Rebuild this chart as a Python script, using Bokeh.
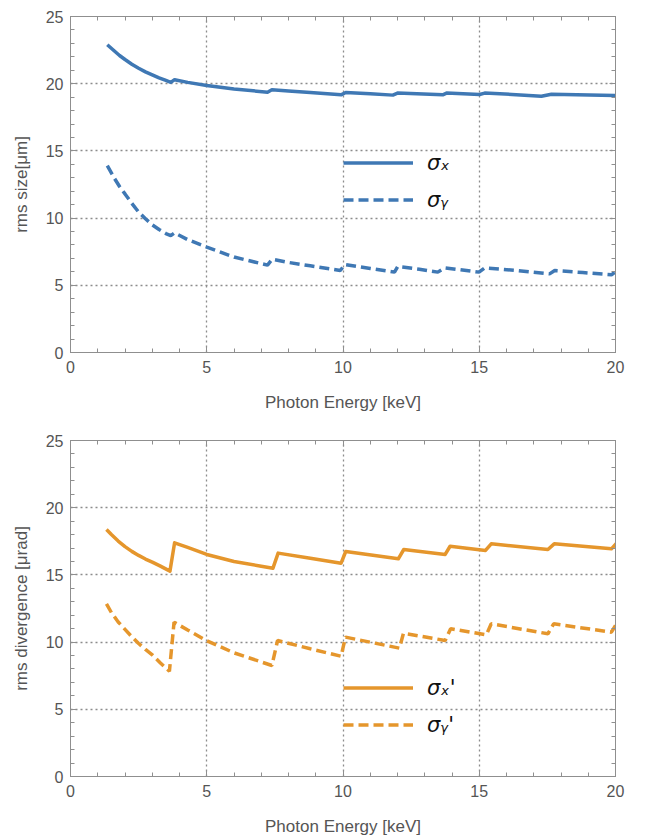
from bokeh.plotting import figure
from bokeh.models import (Range1d, LinearAxis, SingleIntervalTicker, Legend, LegendItem,
                          CustomJSTickFormatter)
from bokeh.layouts import column
from bokeh.embed import file_html
from bokeh.resources import INLINE

# ---- data ----
sx_e = [1.35, 1.6, 1.8, 2.0, 2.25, 2.5, 2.75, 3.0, 3.25, 3.5, 3.68, 3.82, 4.3, 5.0, 6.0, 7.23, 7.39, 8.0,
        8.8, 9.93, 10.1, 11.0, 11.83, 12.0, 13.66, 13.8, 15.01, 15.2, 16.2, 17.28, 17.65, 19.97, 20.0]
sx_v = [22.9, 22.45, 22.1, 21.8, 21.45, 21.15, 20.88, 20.65, 20.43, 20.24, 20.1, 20.3, 20.1, 19.87,
        19.6, 19.37, 19.55, 19.45, 19.35, 19.17, 19.35, 19.25, 19.15, 19.3, 19.17, 19.3, 19.2, 19.3,
        19.2, 19.07, 19.22, 19.12, 19.12]

sy_e = [1.35, 1.6, 1.8, 2.0, 2.25, 2.5, 2.75, 3.0, 3.25, 3.5, 3.68, 3.82, 4.3, 5.0, 6.0, 7.23, 7.4,
        8.0, 8.8, 9.9, 10.07, 11.0, 11.89, 12.01, 12.8, 13.48, 13.73, 14.99, 15.2, 16.4, 17.58,
        17.77, 18.8, 19.85, 19.97]
sy_v = [13.9, 13.0, 12.35, 11.8, 11.1, 10.45, 9.95, 9.5, 9.15, 8.85, 8.7, 8.9, 8.4, 7.84, 7.1, 6.5,
        6.94, 6.7, 6.45, 6.1, 6.55, 6.25, 5.98, 6.4, 6.2, 5.98, 6.3, 5.98, 6.3, 6.1, 5.85, 6.1, 5.95,
        5.78, 5.97]

dx_e = [1.32, 1.5, 1.75, 2.0, 2.25, 2.5, 2.75, 3.0, 3.3, 3.65, 3.82, 4.3, 5.0, 6.0, 7.0, 7.43, 7.62,
        8.8, 9.93, 10.1, 12.03, 12.23, 13.75, 13.93, 15.23, 15.44, 17.52, 17.75, 19.85, 20.04]
dx_v = [18.38, 18.0, 17.52, 17.1, 16.75, 16.45, 16.18, 15.95, 15.65, 15.28, 17.39, 17.05, 16.52,
        16.0, 15.65, 15.5, 16.62, 16.24, 15.87, 16.74, 16.2, 16.89, 16.52, 17.13, 16.82, 17.31,
        16.89, 17.31, 16.94, 17.36]

dy_e = [1.32, 1.5, 1.75, 2.0, 2.25, 2.5, 2.75, 3.0, 3.3, 3.63, 3.80, 4.3, 5.0, 6.0, 7.39, 7.6, 8.8,
        9.93, 10.09, 12.07, 12.22, 13.75, 13.95, 15.26, 15.44, 17.52, 17.73, 19.85, 20.0]
dy_v = [12.85, 12.2, 11.5, 10.95, 10.4, 9.9, 9.45, 9.05, 8.45, 7.83, 11.48, 10.9, 10.1, 9.2, 8.26,
        10.12, 9.5, 8.95, 10.37, 9.55, 10.66, 10.12, 10.99, 10.54, 11.36, 10.62, 11.36, 10.74, 11.24]

x_title = "Photon Energy [keV]"
top_title = "rms size[μm]"
bot_title = "rms divergence [μrad]"
top_labels = ["σₓ", "σᵧ"]
bot_labels = ["σₓ'", "σᵧ'"]

BLUE = "#3f78b4"
ORANGE = "#e5962c"
FRAME = "#8f8f8f"
TXT = "#555555"
FONT = "Liberation Sans"


def style_axis(ax, show):
    ax.ticker = SingleIntervalTicker(interval=5, num_minor_ticks=5)
    ax.axis_line_color = FRAME
    ax.major_tick_line_color = FRAME
    ax.minor_tick_line_color = FRAME
    ax.major_tick_in = 6
    ax.major_tick_out = 0
    ax.minor_tick_in = 4
    ax.minor_tick_out = 0
    ax.major_label_text_font = FONT
    ax.major_label_text_color = TXT
    ax.axis_label_text_font = FONT
    ax.axis_label_text_color = TXT
    ax.axis_label_text_font_style = "normal"
    if show:
        ax.major_label_text_font_size = "16px"
        ax.axis_label_text_font_size = "17px"
    else:
        ax.formatter = CustomJSTickFormatter(code="return '';")
        ax.major_label_text_font_size = "1px"
        ax.major_label_standoff = 0


def make_fig(ylabel, e1, v1, e2, v2, color, labels, leg_loc, top_b, bot_b):
    p = figure(frame_width=545, frame_height=336, x_range=Range1d(0, 20), y_range=Range1d(0, 25),
               output_backend="svg", toolbar_location=None, title=None,
               min_border_left=70, min_border_right=24, min_border_top=top_b, min_border_bottom=bot_b)
    p.outline_line_color = FRAME
    p.background_fill_color = "white"
    p.border_fill_color = "white"
    style_axis(p.xaxis[0], True)
    style_axis(p.yaxis[0], True)
    p.xaxis.axis_label = x_title
    p.yaxis.axis_label = ylabel
    p.xaxis.major_label_standoff = 8
    p.yaxis.major_label_standoff = 7
    p.xaxis.axis_label_standoff = 17
    p.yaxis.axis_label_standoff = 12
    ax_top = LinearAxis()
    ax_right = LinearAxis()
    style_axis(ax_top, False)
    style_axis(ax_right, False)
    p.add_layout(ax_top, "above")
    p.add_layout(ax_right, "right")
    for g in (p.xgrid[0], p.ygrid[0]):
        g.ticker = SingleIntervalTicker(interval=5)
        g.grid_line_color = "#8c8c8c"
        g.grid_line_dash = "2 3"
        g.grid_line_width = 1.3
    r1 = p.line(e1, v1, line_color=color, line_width=3.5, line_join="round")
    r2 = p.line(e2, v2, line_color=color, line_width=3.5, line_dash="10 5")
    leg = Legend(items=[LegendItem(label=labels[0], renderers=[r1]),
                        LegendItem(label=labels[1], renderers=[r2])],
                 location=leg_loc, orientation="vertical", padding=0, margin=0, spacing=0,
                 glyph_width=70, glyph_height=37, label_height=37, label_standoff=14,
                 label_text_font="DejaVu Sans", label_text_font_style="italic",
                 label_text_font_size="21px", label_text_color="#111111",
                 border_line_color=None, background_fill_alpha=0)
    p.add_layout(leg, "center")
    return p


p1 = make_fig(top_title, sx_e, sx_v, sy_e, sy_v, BLUE, top_labels, (273, 134), 16, 64)
p2 = make_fig(bot_title, dx_e, dx_v, dy_e, dy_v, ORANGE, bot_labels, (273, 33), 24, 56)

layout = column(p1, p2, spacing=0)
open("out.html", "w").write(file_html(layout, INLINE))
